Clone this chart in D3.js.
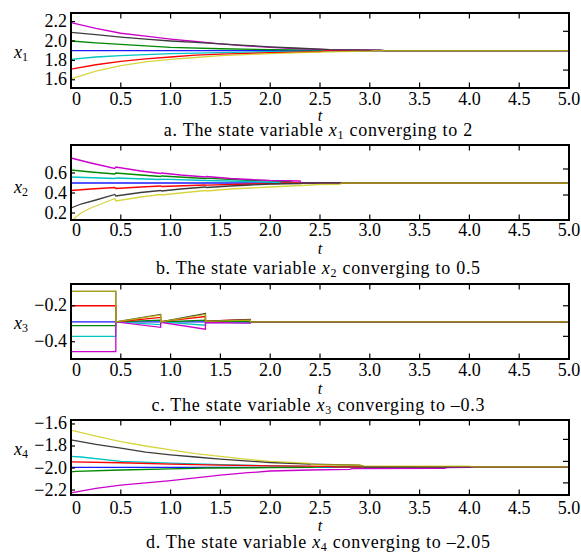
<!DOCTYPE html>
<html lang="en">
<head>
<meta charset="utf-8">
<script src="https://cdn.jsdelivr.net/npm/d3@7"></script>
<style>
  body { margin: 0; background: #fff; }
</style>
</head>
<body>
<svg id="chart" width="581" height="554" font-family="Liberation Serif, serif"></svg>
<script>
// colours of the 7 agents, in drawing order
const seriesColors = ["#1a1aff", "#008800", "#00c4c4", "#ff0000", "#cc00cc", "#3c3c3c", "#c8c800"]

// time ticks (shared by all panels)
const tTicks = [0, 0.5, 1.0, 1.5, 2.0, 2.5, 3.0, 3.5, 4.0, 4.5, 5.0]

// x1: blue, green, cyan, red, magenta, black, yellow
const x1Data = [
  [[0, 1.9], [5, 1.9]],
  [[0, 2.0], [0.25, 1.98], [0.5, 1.965], [0.75, 1.95], [1.0, 1.935], [1.5, 1.92], [2.0, 1.91], [2.5, 1.905], [2.55, 1.9], [5, 1.9]],
  [[0, 1.81], [0.25, 1.835], [0.5, 1.85], [0.75, 1.86], [1.0, 1.87], [1.5, 1.88], [2.0, 1.89], [2.5, 1.895], [2.55, 1.9], [5, 1.9]],
  [[0, 1.71], [0.25, 1.755], [0.5, 1.79], [0.75, 1.815], [1.0, 1.835], [1.25, 1.855], [1.5, 1.865], [2.0, 1.88], [2.5, 1.89], [2.55, 1.9], [5, 1.9]],
  [[0, 2.19], [0.25, 2.13], [0.5, 2.08], [0.75, 2.05], [1.0, 2.02], [1.25, 1.995], [1.5, 1.97], [1.75, 1.95], [2.0, 1.935], [2.3, 1.92], [2.6, 1.91], [3.1, 1.905], [3.15, 1.9], [5, 1.9]],
  [[0, 2.09], [0.25, 2.065], [0.5, 2.04], [0.75, 2.02], [1.0, 2.0], [1.25, 1.985], [1.5, 1.97], [1.75, 1.955], [2.0, 1.94], [2.3, 1.925], [2.6, 1.91], [3.1, 1.905], [3.15, 1.9], [5, 1.9]],
  [[0, 1.61], [0.25, 1.69], [0.5, 1.745], [0.75, 1.785], [1.0, 1.81], [1.25, 1.83], [1.5, 1.85], [1.75, 1.86], [2.0, 1.87], [2.3, 1.88], [2.7, 1.89], [3.0, 1.895], [3.05, 1.9], [5, 1.9]]
]

// x2
const x2Data = [
  [[0, 0.5], [5, 0.5]],
  [[0, 0.63], [0.2, 0.61], [0.44, 0.59], [0.45, 0.6], [0.7, 0.58], [0.9, 0.565], [0.91, 0.57], [1.35, 0.545], [1.36, 0.548], [1.8, 0.525], [2.2, 0.515], [2.25, 0.5], [5, 0.5]],
  [[0, 0.56], [0.44, 0.545], [0.45, 0.55], [0.9, 0.535], [0.91, 0.538], [1.35, 0.525], [1.8, 0.515], [2.1, 0.505], [2.12, 0.5], [5, 0.5]],
  [[0, 0.425], [0.2, 0.44], [0.44, 0.455], [0.45, 0.445], [0.7, 0.46], [0.9, 0.47], [0.91, 0.465], [1.35, 0.48], [1.36, 0.478], [1.8, 0.49], [2.1, 0.495], [2.12, 0.5], [5, 0.5]],
  [[0, 0.75], [0.2, 0.7], [0.44, 0.645], [0.45, 0.66], [0.7, 0.62], [0.9, 0.595], [0.91, 0.6], [1.1, 0.58], [1.35, 0.56], [1.36, 0.565], [1.6, 0.545], [1.8, 0.535], [2.0, 0.525], [2.3, 0.52], [2.31, 0.5], [5, 0.5]],
  [[0, 0.25], [0.1, 0.29], [0.25, 0.33], [0.44, 0.385], [0.45, 0.37], [0.7, 0.405], [0.9, 0.425], [0.91, 0.42], [1.1, 0.44], [1.35, 0.46], [1.36, 0.455], [1.6, 0.47], [1.8, 0.48], [2.0, 0.49], [2.3, 0.495], [2.35, 0.5], [5, 0.5]],
  [[0, 0.12], [0.1, 0.2], [0.2, 0.25], [0.44, 0.345], [0.45, 0.32], [0.7, 0.36], [0.9, 0.385], [0.91, 0.38], [1.1, 0.4], [1.35, 0.425], [1.36, 0.42], [1.6, 0.44], [1.8, 0.45], [2.0, 0.46], [2.3, 0.475], [2.5, 0.485], [2.7, 0.487], [2.72, 0.5], [5, 0.5]]
]

// x3
const x3Data = [
  [[0, -0.29], [5, -0.29]],
  [[0, -0.31], [0.45, -0.31], [0.45, -0.29], [0.9, -0.28], [0.9, -0.29], [1.35, -0.28], [1.35, -0.289], [1.8, -0.286], [1.8, -0.29], [5, -0.29]],
  [[0, -0.37], [0.45, -0.37], [0.45, -0.29], [0.9, -0.305], [0.9, -0.29], [1.35, -0.308], [1.35, -0.292], [1.8, -0.295], [1.8, -0.29], [5, -0.29]],
  [[0, -0.2], [0.45, -0.2], [0.45, -0.29], [0.9, -0.265], [0.9, -0.288], [1.35, -0.26], [1.35, -0.285], [1.8, -0.276], [1.8, -0.29], [5, -0.29]],
  [[0, -0.455], [0.45, -0.455], [0.45, -0.29], [0.9, -0.32], [0.9, -0.292], [1.35, -0.33], [1.35, -0.293], [1.8, -0.296], [1.8, -0.29], [5, -0.29]],
  [[0, -0.12], [0.45, -0.12], [0.45, -0.29], [0.9, -0.248], [0.9, -0.29], [1.35, -0.243], [1.35, -0.285], [1.8, -0.278], [1.8, -0.29], [5, -0.29]],
  [[0, -0.12], [0.45, -0.12], [0.45, -0.29], [0.9, -0.252], [0.9, -0.29], [1.35, -0.248], [1.35, -0.287], [1.8, -0.28], [1.8, -0.29], [5, -0.29]]
]

// x4
const x4Data = [
  [[0, -1.995], [5, -1.995]],
  [[0, -2.035], [0.05, -2.03], [0.5, -2.018], [1.0, -2.008], [1.35, -2.0], [2.0, -1.997], [2.5, -1.995], [2.55, -1.99], [5, -1.99]],
  [[0, -1.895], [0.1, -1.9], [0.5, -1.94], [1.0, -1.955], [1.5, -1.97], [2.0, -1.98], [2.4, -1.985], [2.45, -1.99], [5, -1.99]],
  [[0, -1.945], [0.5, -1.952], [1.0, -1.965], [1.5, -1.973], [2.0, -1.98], [2.6, -1.985], [2.65, -1.99], [5, -1.99]],
  [[0, -2.225], [0.25, -2.185], [0.5, -2.155], [0.75, -2.135], [1.0, -2.115], [1.25, -2.09], [1.5, -2.065], [1.75, -2.045], [2.0, -2.027], [2.4, -2.018], [2.8, -2.012], [2.82, -2.006], [3.75, -2.004], [3.77, -1.997], [4.0, -1.995], [4.05, -1.99], [5, -1.99]],
  [[0, -1.745], [0.25, -1.785], [0.5, -1.82], [0.75, -1.855], [1.0, -1.88], [1.25, -1.9], [1.5, -1.92], [1.75, -1.935], [2.0, -1.95], [2.4, -1.965], [2.9, -1.975], [2.95, -1.99], [5, -1.99]],
  [[0, -1.655], [0.25, -1.71], [0.5, -1.76], [0.75, -1.8], [1.0, -1.835], [1.25, -1.87], [1.5, -1.895], [1.75, -1.92], [2.0, -1.94], [2.4, -1.958], [2.42, -1.97], [2.9, -1.975], [2.92, -1.98], [4.0, -1.982], [4.05, -1.99], [5, -1.99]]
]

// y ticks (left labels) and small right-hand frame ticks
const yTicks1 = [1.6, 1.8, 2.0, 2.2]
const yTicks2 = [0.2, 0.4, 0.6]
const yTicks3 = [-0.4, -0.2]
const yTicks4 = [-2.2, -2.0, -1.8, -1.6]
const rightTicks1 = [1.7, 2.1]
const rightTicks2 = [0.38, 0.64]
const rightTicks3 = [-0.37, -0.2]
const rightTicks4 = [-2.135, -1.94, -1.74]

const varIndex = ["1", "2", "3", "4"]
const captionPre = ["a. The state variable ", "b. The state variable ", "c. The state variable ", "d. The state variable "]
const captionPost = [" converging to 2", " converging to 0.5", " converging to \u20130.3", " converging to \u20132.05"]

// panel geometry
const boxLeft = 71, boxRight = 569, boxH = 75
const panels = [
  { top: 13,  domain: [1.515, 2.289],  data: x1Data, ticks: yTicks1, right: rightTicks1, labY: 58,  tickY: 105, tY: 121, capY: 136 },
  { top: 145, domain: [0.13, 0.88],    data: x2Data, ticks: yTicks2, right: rightTicks2, labY: 193, tickY: 236, tY: 254, capY: 274 },
  { top: 284, domain: [-0.496, -0.079], data: x3Data, ticks: yTicks3, right: rightTicks3, labY: 329, tickY: 376, tY: 394, capY: 411 },
  { top: 420, domain: [-2.245, -1.564], data: x4Data, ticks: yTicks4, right: rightTicks4, labY: 455, tickY: 514, tY: 531, capY: 548 }
]

let svg = d3.select("#chart")
svg.append("rect").attr("width", 581).attr("height", 554).attr("fill", "#fff")

let scaleX = d3.scaleLinear().domain([0, 5]).range([boxLeft, boxRight])
const fmtY = v => d3.format(".1f")(v).replace("-", "\u2212")

panels.forEach((p, k) => {
  let g = svg.append("g")
  let scaleY = d3.scaleLinear().domain(p.domain).range([p.top + boxH, p.top])

  // series lines
  let line = d3.line()
    .x(d => scaleX(d[0]))
    .y(d => scaleY(d[1]))
  p.data.forEach((s, i) => {
    g.append("path")
      .datum(s)
      .attr("fill", "none")
      .attr("stroke", seriesColors[i])
      .attr("stroke-width", 1.3)
      .attr("stroke-opacity", i == 6 ? 0.75 : 1)
      .attr("d", line)
  })

  // frame
  g.append("rect")
    .attr("x", boxLeft).attr("y", p.top)
    .attr("width", boxRight - boxLeft).attr("height", boxH)
    .attr("fill", "none").attr("stroke", "#000").attr("stroke-width", 2)

  // bottom / top ticks
  let inner = tTicks.filter(t => t > 0 && t < 5)
  inner.forEach(t => {
    g.append("line").attr("x1", scaleX(t)).attr("x2", scaleX(t))
      .attr("y1", p.top + boxH).attr("y2", p.top + boxH - 5.5)
      .attr("stroke", "#000").attr("stroke-width", 1.2)
    g.append("line").attr("x1", scaleX(t)).attr("x2", scaleX(t))
      .attr("y1", p.top).attr("y2", p.top + 5.5)
      .attr("stroke", "#000").attr("stroke-width", 1.2)
  })
  tTicks.forEach(t => {
    g.append("text")
      .attr("x", t == 0 ? scaleX(t) + 1 : scaleX(t))
      .attr("y", p.tickY)
      .attr("text-anchor", t == 0 ? "start" : "middle")
      .attr("font-size", 18)
      .text(t == 0 ? "0" : d3.format(".1f")(t))
  })

  // left ticks + labels
  p.ticks.forEach(v => {
    g.append("line").attr("x1", boxLeft).attr("x2", boxLeft + 4)
      .attr("y1", scaleY(v)).attr("y2", scaleY(v))
      .attr("stroke", "#000").attr("stroke-width", 1.2)
    g.append("text")
      .attr("x", 67).attr("y", scaleY(v) + 5.5)
      .attr("text-anchor", "end")
      .attr("font-size", 18)
      .text(fmtY(v))
  })

  // right ticks
  p.right.forEach(v => {
    g.append("line").attr("x1", boxRight).attr("x2", boxRight - 6)
      .attr("y1", scaleY(v)).attr("y2", scaleY(v))
      .attr("stroke", "#000").attr("stroke-width", 1.2)
  })

  // y label x_k
  let yl = g.append("text").attr("x", 14).attr("y", p.labY).attr("font-size", 18)
  yl.append("tspan").attr("font-style", "italic").text("x")
  yl.append("tspan").attr("font-size", 12).attr("dy", 3).text(varIndex[k])

  // t label
  g.append("text")
    .attr("x", scaleX(2.5)).attr("y", p.tY)
    .attr("text-anchor", "middle").attr("font-style", "italic").attr("font-size", 16)
    .text("t")

  // caption (the original typesetting is a little wider than this font)
  let cap = g.append("text")
    .attr("x", 318).attr("y", p.capY)
    .attr("text-anchor", "middle").attr("font-size", 18)
  cap.append("tspan").text(captionPre[k])
  cap.append("tspan").attr("font-style", "italic").text("x")
  cap.append("tspan").attr("font-size", 12).attr("dy", 3).text(varIndex[k])
  cap.append("tspan").attr("dy", -3).text(captionPost[k])
  let w = cap.node().getComputedTextLength()
  cap.attr("textLength", w * 1.1).attr("lengthAdjust", "spacing")
})
</script>
</body>
</html>
